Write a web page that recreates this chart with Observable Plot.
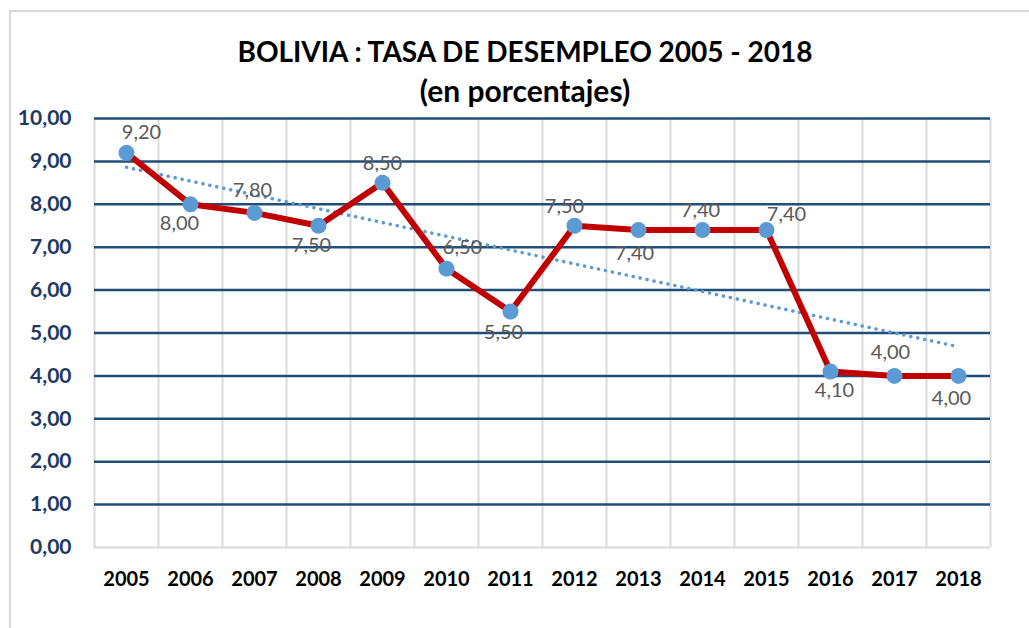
<!DOCTYPE html>
<html>
<head>
<meta charset="utf-8">
<script src="https://cdn.jsdelivr.net/npm/d3@7"></script>
<script src="https://cdn.jsdelivr.net/npm/@observablehq/plot@0.6"></script>
<style>
  html, body { margin: 0; padding: 0; background: #fff; }
  #wrap { position: relative; width: 1029px; height: 628px; overflow: hidden; background: #fff; }
  #frame { position: absolute; left: 9px; top: 10px; width: 1100px; height: 700px;
           border-top: 2px solid #d9d9d9; border-left: 2px solid #d9d9d9; }
  .ttl { position: absolute; left: 0; width: 1050px; text-align: center;
         font-family: Lato, "Open Sans", sans-serif; font-weight: bold; font-size: 28px; color: #000; }
  #chart { position: absolute; left: 0; top: 0; }
</style>
</head>
<body>
<div id="wrap">
  <div id="frame"></div>
  <div class="ttl" style="top:34px">BOLIVIA : TASA DE DESEMPLEO 2005 - 2018</div>
  <div class="ttl" style="top:72px;font-size:30px">(en porcentajes)</div>
  <div id="chart"></div>
</div>
<script>
// Data
const years = [2005, 2006, 2007, 2008, 2009, 2010, 2011, 2012, 2013, 2014, 2015, 2016, 2017, 2018];
const rates = [9.20, 8.00, 7.80, 7.50, 8.50, 6.50, 5.50, 7.50, 7.40, 7.40, 7.40, 4.10, 4.00, 4.00];
const yTicks = [0, 1, 2, 3, 4, 5, 6, 7, 8, 9, 10];

// Label placement (layout only)
const labelOffsets = [
  [15, -20], [-11, 19], [-2, -22], [-7, 20], [0, -19], [16, -21], [-7, 21],
  [-10, -19], [-4, 24], [-2, -19], [20, -15], [4, 19], [-4, -23], [-7, 23]
];

const data = years.map((year, i) => ({year, value: rates[i]}));
const fmt = v => v.toFixed(2).replace(".", ",");
const boundaries = years.map(y => y - 0.5).concat([years[years.length - 1] + 0.5]);

const labelMarks = data.map((d, i) => Plot.text([d], {
  x: "year", y: "value", text: dd => fmt(dd.value),
  dx: labelOffsets[i][0], dy: labelOffsets[i][1],
  fill: "#595959", fontSize: 20, fontFamily: "Lato"
}));

const chart = Plot.plot({
  width: 1029,
  height: 628,
  marginLeft: 94,
  marginRight: 39,
  marginTop: 118,
  marginBottom: 81,
  style: {fontFamily: "Lato, sans-serif", background: "transparent"},
  x: {type: "linear", domain: [years[0] - 0.5, years[years.length - 1] + 0.5]},
  y: {type: "linear", domain: [0, 10]},
  marks: [
    Plot.ruleX(boundaries, {y1: 0, y2: 10, stroke: "#d9d9d9", strokeWidth: 2}),
    Plot.ruleY(yTicks.filter(t => t > 0), {stroke: "#1f4e79", strokeWidth: 2.5}),
    Plot.ruleY([0], {stroke: "#d9d9d9", strokeWidth: 2}),
    Plot.axisY({ticks: yTicks, tickFormat: fmt, tickSize: 0, tickPadding: 23,
      fontSize: 21, fontWeight: "bold", color: "#1f3864", label: null}),
    Plot.axisX({ticks: years, tickFormat: d => String(d), tickSize: 0, tickPadding: 24,
      fontSize: 20, fontWeight: "bold", color: "#000", label: null}),
    Plot.linearRegressionY(data, {x: "year", y: "value", ci: 0,
      stroke: "#5b9bd5", strokeWidth: 3.5, strokeDasharray: "0.1 7", strokeLinecap: "round"}),
    Plot.line(data, {x: "year", y: "value", stroke: "#c00000", strokeWidth: 6,
      strokeLinejoin: "round"}),
    Plot.dot(data, {x: "year", y: "value", r: 8, fill: "#5b9bd5", stroke: "none"}),
    ...labelMarks
  ]
});
document.getElementById("chart").appendChild(chart);
</script>
</body>
</html>
